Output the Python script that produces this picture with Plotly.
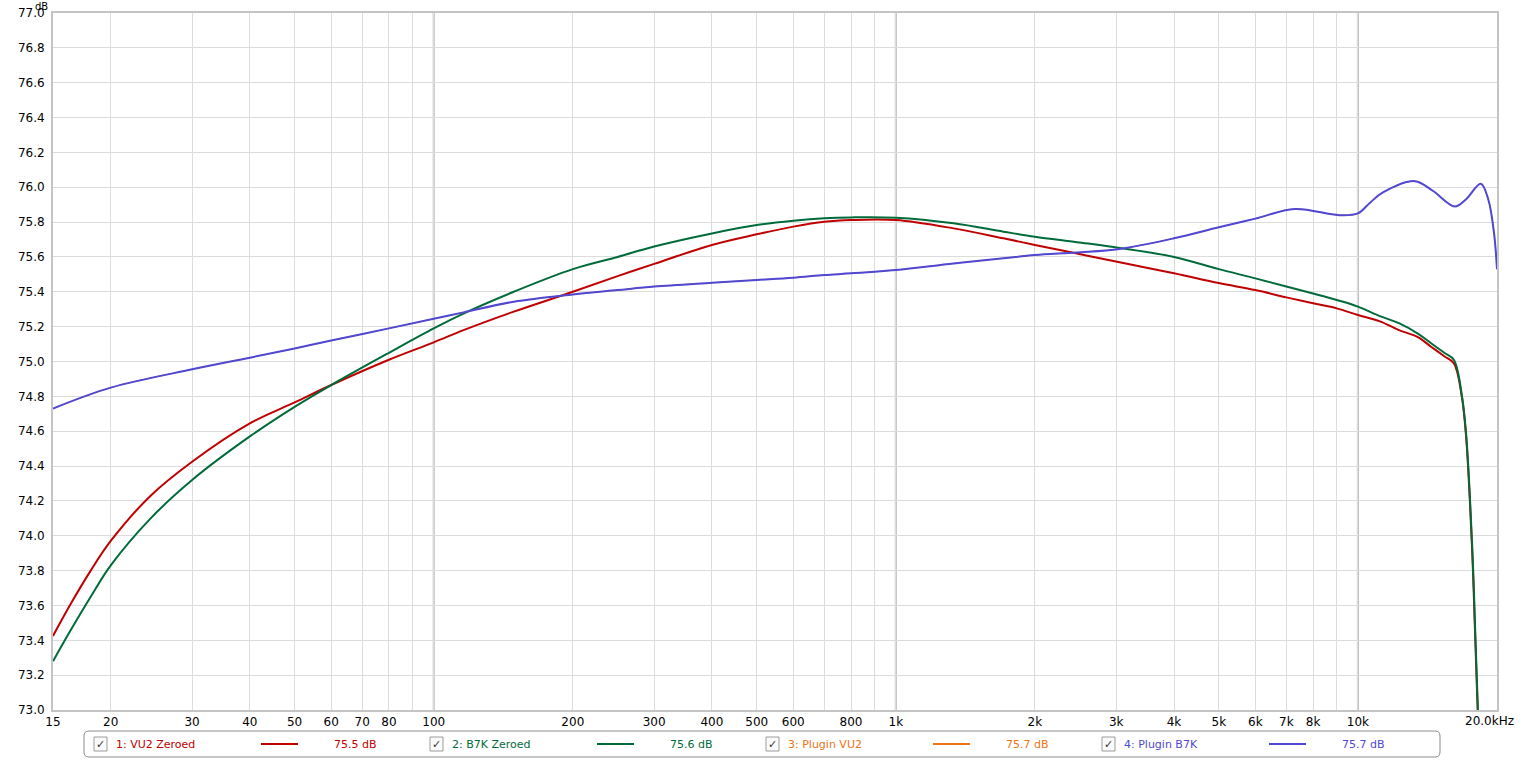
import plotly.graph_objects as go
import math

# ---------------- data ----------------
freq_red = [15, 16.4, 18.1, 20, 24.4, 30, 40, 50, 60, 80, 100, 116, 149, 200, 250, 300, 400,
            500, 600, 700, 800, 1000, 1334, 1710, 2000, 2466, 3050, 4000, 5000, 6000, 7000,
            8000, 9000, 10000, 11160, 12270, 13480, 14400, 15380, 16130, 16780, 17120, 17310,
            17470, 17730, 17930, 18160, 18400]
db_red = [73.425, 73.611, 73.80, 73.97, 74.23, 74.425, 74.645, 74.765, 74.865, 75.01, 75.11,
          75.18, 75.286, 75.40, 75.49, 75.56, 75.669, 75.73, 75.774, 75.802, 75.812, 75.812,
          75.764, 75.707, 75.669, 75.62, 75.569, 75.506, 75.45, 75.41, 75.368, 75.334, 75.305,
          75.267, 75.23, 75.18, 75.14, 75.085, 75.03, 74.99, 74.80, 74.59, 74.40, 74.20, 73.82,
          73.44, 73.01, 72.6]

freq_green = [15, 16.4, 18.1, 20, 24.4, 30, 40, 50, 60, 80, 100, 116, 149, 200, 250, 300, 400,
              500, 600, 700, 800, 1000, 1334, 1710, 2000, 2466, 3050, 4000, 5000, 6000, 7000,
              8000, 9000, 10000, 11160, 12270, 13480, 14400, 15380, 16130, 16800, 17140, 17330,
              17490, 17750, 17950, 18180, 18400]
db_green = [73.28, 73.46, 73.65, 73.83, 74.10, 74.32, 74.57, 74.74, 74.865, 75.05, 75.19,
            75.275, 75.40, 75.53, 75.60, 75.66, 75.735, 75.783, 75.808, 75.822, 75.827,
            75.825, 75.793, 75.745, 75.716, 75.685, 75.652, 75.60, 75.53, 75.477, 75.43, 75.39,
            75.353, 75.315, 75.26, 75.22, 75.16, 75.105, 75.05, 75.01, 74.80, 74.59, 74.40,
            74.20, 73.82, 73.44, 73.01, 72.6]

freq_blue = [15, 20, 30, 40, 50, 60, 80, 100, 116, 149, 200, 250, 300, 400, 500, 600, 700, 800,
             1000, 1334, 1710, 2000, 2466, 3050, 4000, 5000, 6000, 7300, 9100, 10000, 10610,
             11330, 13280, 14520, 16210, 17120, 18450, 19150, 19700, 20000]
db_blue = [74.73, 74.85, 74.955, 75.022, 75.075, 75.12, 75.19, 75.245, 75.282, 75.343, 75.385,
           75.41, 75.43, 75.452, 75.468, 75.481, 75.496, 75.506, 75.525, 75.563, 75.592, 75.611,
           75.626, 75.646, 75.707, 75.77, 75.82, 75.875, 75.84, 75.85, 75.91, 75.97, 76.035,
           75.98, 75.89, 75.93, 76.02, 75.93, 75.74, 75.53]

# Plugin VU2 lies underneath Plugin B7K (hidden in the picture)
freq_orange = freq_blue
db_orange = db_blue

series_names = ["1: VU2 Zeroed", "2: B7K Zeroed", "3: Plugin VU2", "4: Plugin B7K"]
series_values = ["75.5 dB", "75.6 dB", "75.7 dB", "75.7 dB"]
series_colors = ["#C00000", "#006B3A", "#EC7414", "#5048D2"]
series_widths = [2, 2, 1, 2]

x_tickvals = [15, 20, 30, 40, 50, 60, 70, 80, 90, 100, 200, 300, 400, 500, 600, 700, 800, 900,
              1000, 2000, 3000, 4000, 5000, 6000, 7000, 8000, 9000, 10000, 20000]
x_ticktext = ["15", "20", "30", "40", "50", "60", "70", "80", "", "100", "200", "300", "400",
              "500", "600", "", "800", "", "1k", "2k", "3k", "4k", "5k", "6k", "7k", "8k", "",
              "10k", ""]
x_end_label = "20.0kHz"
y_tickvals = [73.0 + 0.2 * i for i in range(21)]
y_ticktext = ["%.1f" % v for v in y_tickvals]
major_x = [100, 1000, 10000]

# ---------------- layout helpers ----------------
W, H = 1524, 760
L, R, T, B = 53, 1497, 13, 710


def px(x):
    return (x - L) / (R - L)


def py(y):
    return (B - y) / (B - T)


fig = go.Figure()
traces = [(freq_red, db_red), (freq_green, db_green), (freq_orange, db_orange), (freq_blue, db_blue)]
for (fx, fy), name, col, lw in zip(traces, series_names, series_colors, series_widths):
    fig.add_trace(go.Scatter(x=fx, y=fy, mode="lines", name=name,
                             line=dict(color=col, width=lw, shape="spline", smoothing=1.0),
                             showlegend=False, cliponaxis=True))

font = "DejaVu Sans, Lucida Grande, sans-serif"

shapes = []
for m in major_x:
    shapes.append(dict(type="line", xref="x", yref="paper", x0=m, x1=m, y0=0, y1=1,
                       line=dict(color="#BBBBBB", width=2), layer="below"))

annotations = [
    dict(text="dB", x=px(41), y=py(0), xref="paper", yref="paper", showarrow=False,
         font=dict(family=font, size=10, color="#000"), xanchor="center", yanchor="top",
         borderpad=0),
    dict(text=x_end_label, x=px(1489), y=py(721), xref="paper", yref="paper", showarrow=False,
         font=dict(family=font, size=12, color="#000"), xanchor="center", yanchor="middle"),
]

# legend box
lx0, lx1, ly0, ly1 = px(84), px(1440), py(731), py(757)
r = 5
rx, ry = r / (R - L), r / (B - T)
path = (f"M {lx0+rx},{ly0} L {lx1-rx},{ly0} Q {lx1},{ly0} {lx1},{ly0-ry} "
        f"L {lx1},{ly1+ry} Q {lx1},{ly1} {lx1-rx},{ly1} L {lx0+rx},{ly1} "
        f"Q {lx0},{ly1} {lx0},{ly1+ry} L {lx0},{ly0-ry} Q {lx0},{ly0} {lx0+rx},{ly0} Z")
shapes.append(dict(type="path", path=path, xref="paper", yref="paper",
                   line=dict(color="#8C8C8C", width=1), fillcolor="white"))

item_x = [94, 430, 766, 1102]
cy = 744
for ix, name, val, col in zip(item_x, series_names, series_values, series_colors):
    shapes.append(dict(type="rect", xref="paper", yref="paper", x0=px(ix), x1=px(ix + 13),
                       y0=py(cy - 7), y1=py(cy + 7), line=dict(color="#9A9A9A", width=1),
                       fillcolor="#FBFBFB"))
    annotations.append(dict(text="✓", x=px(ix + 6.5), y=py(cy), xref="paper", yref="paper",
                            showarrow=False, font=dict(family=font, size=11, color="#333"),
                            xanchor="center", yanchor="middle"))
    annotations.append(dict(text=name, x=px(ix + 20), y=py(cy), xref="paper", yref="paper",
                            showarrow=False, font=dict(family=font, size=11, color=col),
                            xanchor="left", yanchor="middle"))
    shapes.append(dict(type="line", xref="paper", yref="paper", x0=px(ix + 167), x1=px(ix + 204),
                       y0=py(cy), y1=py(cy), line=dict(color=col, width=2)))
    annotations.append(dict(text=val, x=px(ix + 261), y=py(cy), xref="paper", yref="paper",
                            showarrow=False, font=dict(family=font, size=11, color=col),
                            xanchor="center", yanchor="middle"))

fig.update_layout(
    width=W, height=H,
    margin=dict(l=L, r=W - R, t=T, b=H - B, autoexpand=False),
    paper_bgcolor="white", plot_bgcolor="white",
    shapes=shapes, annotations=annotations,
    showlegend=False,
    font=dict(family=font, size=12, color="#000"),
)
fig.update_xaxes(type="log", range=[math.log10(15), math.log10(20000)],
                 tickmode="array", tickvals=x_tickvals, ticktext=x_ticktext,
                 showgrid=True, gridcolor="#DCDCDC", gridwidth=1, automargin=False,
                 showline=True, linecolor="#C4C4C4", linewidth=2, mirror=True,
                 ticks="", tickfont=dict(family=font, size=12, color="#000"), zeroline=False)
fig.update_yaxes(range=[73.0, 77.0], tickmode="array", tickvals=y_tickvals, ticktext=y_ticktext,
                 showgrid=True, gridcolor="#DCDCDC", gridwidth=1, automargin=False,
                 showline=True, linecolor="#C4C4C4", linewidth=2, mirror=True,
                 ticks="", ticklabelstandoff=4,
                 tickfont=dict(family=font, size=12, color="#000"), zeroline=False)

fig.write_html("out.html", config={"displayModeBar": False},
               post_script="document.body.style.margin='0px';document.body.style.overflow='hidden';")
